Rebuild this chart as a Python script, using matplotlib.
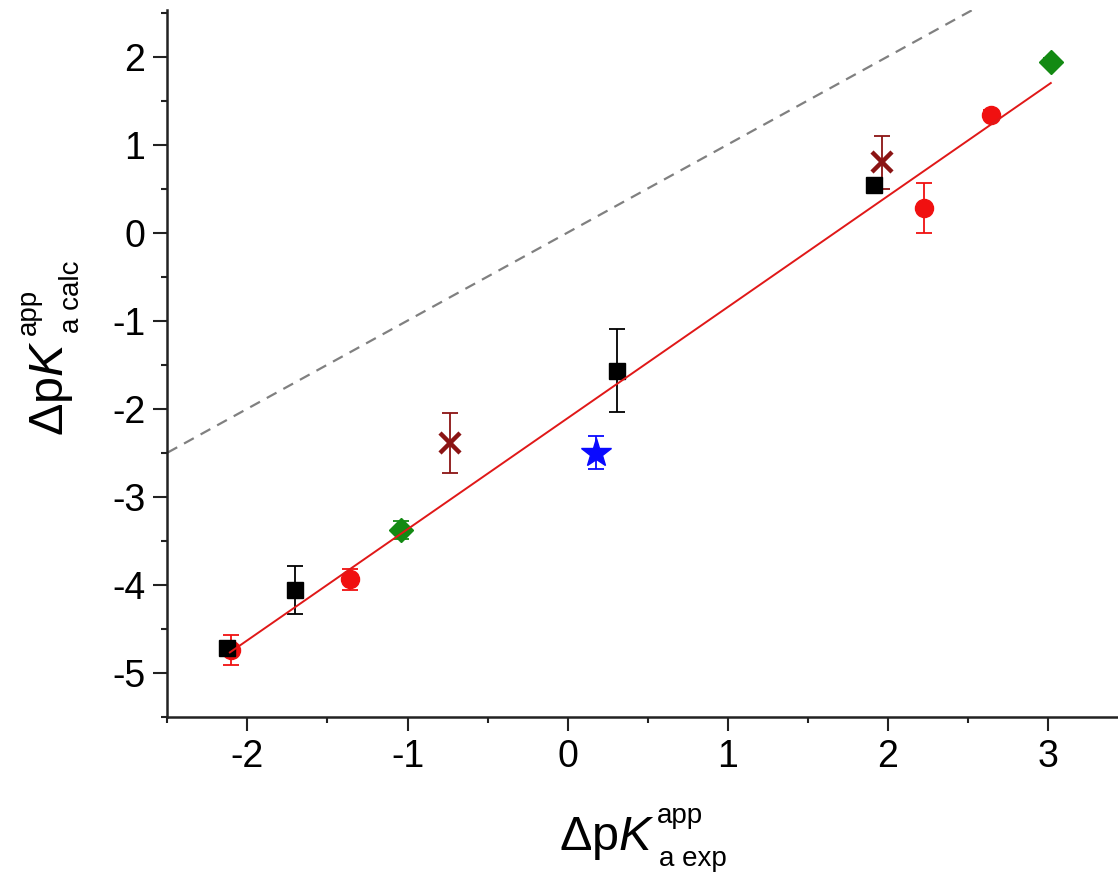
import matplotlib
matplotlib.use("Agg")
import matplotlib.pyplot as plt
from matplotlib.ticker import MultipleLocator
from matplotlib import rcParams

rcParams['font.family'] = 'Liberation Sans'
rcParams['mathtext.fontset'] = 'custom'
rcParams['mathtext.rm'] = 'Liberation Sans'
rcParams['mathtext.it'] = 'Liberation Sans:italic'
rcParams['mathtext.bf'] = 'Liberation Sans:bold'
rcParams['axes.unicode_minus'] = False

# data
sq_x = [-2.13, -1.70, 0.31, 1.915]
sq_y = [-4.72, -4.06, -1.57, 0.54]
sq_err = [0.05, 0.27, 0.47, 0.05]

circ_x = [-2.10, -1.36, 2.23, 2.645]
circ_y = [-4.74, -3.94, 0.28, 1.34]
circ_err = [0.17, 0.12, 0.28, 0.05]

dia_x = [-1.04, 3.02]
dia_y = [-3.38, 1.94]
dia_err = [0.10, 0.05]

cross_x = [-0.735, 1.967]
cross_y = [-2.39, 0.80]
cross_err = [0.34, 0.30]

star_x = [0.18]
star_y = [-2.50]
star_err = [0.19]

fit_x = [-2.11, 3.02]
fit_y = [-4.77, 1.70]

ident_x = [-2.5, 2.6]

W, H = 1118, 876
fig = plt.figure(figsize=(W / 100, H / 100), dpi=100)
ax = fig.add_axes([0.1498, 0.1819, 0.8502, 0.8067])

# y = x reference line
ax.plot(ident_x, ident_x, color='#808080', lw=1.6, linestyle=(0, (5, 3.5)), zorder=1)

eb = dict(ls='none', capsize=6, elinewidth=1.3, capthick=1.3)
ax.errorbar(circ_x, circ_y, yerr=circ_err, marker='o', ms=13, color='#f01010', **eb, zorder=3)
ax.errorbar(sq_x, sq_y, yerr=sq_err, marker='s', ms=12, color='black', **eb, zorder=4)
ax.errorbar(dia_x, dia_y, yerr=dia_err, marker='D', ms=12.5, color='#138a13', **eb, zorder=3)
ax.errorbar(cross_x, cross_y, yerr=cross_err, color='#8b1414', **eb, zorder=3)
ax.plot(cross_x, cross_y, ls='none', marker='x', ms=15, mew=3.2, color='#8b1414', zorder=3)
ax.errorbar(star_x, star_y, yerr=star_err, marker='*', ms=22, color='#0a0aff', **eb, zorder=3)

# linear fit
ax.plot(fit_x, fit_y, color='#e01818', lw=1.4, zorder=5)

ax.set_xlim(-2.5, 3.44)
ax.set_ylim(-5.5, 2.53)

for s in ['top', 'right']:
    ax.spines[s].set_visible(False)
for s in ['left', 'bottom']:
    ax.spines[s].set_linewidth(1.8)
    ax.spines[s].set_color('#222222')

ax.xaxis.set_major_locator(MultipleLocator(1))
ax.xaxis.set_minor_locator(MultipleLocator(0.5))
ax.yaxis.set_major_locator(MultipleLocator(1))
ax.yaxis.set_minor_locator(MultipleLocator(0.5))
ax.tick_params(which='major', direction='out', length=10, width=1.5, labelsize=27, pad=6,
               color='#222222')
ax.tick_params(which='minor', direction='out', length=4.5, width=1.5, color='#222222')


def fx(px):
    return px / W


def fy(py):
    return 1 - py / H


# x axis label: base, superscript, subscript placed by hand
fig.text(fx(655), fy(850), r'$\Delta\mathrm{p}\mathit{K}$', fontsize=35, ha='right', va='baseline')
fig.text(fx(657), fy(823), 'app', fontsize=20, ha='left', va='baseline')
fig.text(fx(659), fy(866), 'a exp', fontsize=20, ha='left', va='baseline')

# y axis label (rotated)
rot = dict(rotation=90, rotation_mode='anchor')
fig.text(fx(63), fy(340), r'$\Delta\mathrm{p}\mathit{K}$', fontsize=35, ha='right', va='baseline', **rot)
fig.text(fx(36), fy(335), 'app', fontsize=20, ha='left', va='baseline', **rot)
fig.text(fx(79), fy(333), 'a calc', fontsize=20, ha='left', va='baseline', **rot)

fig.savefig('out.png', dpi=100)
